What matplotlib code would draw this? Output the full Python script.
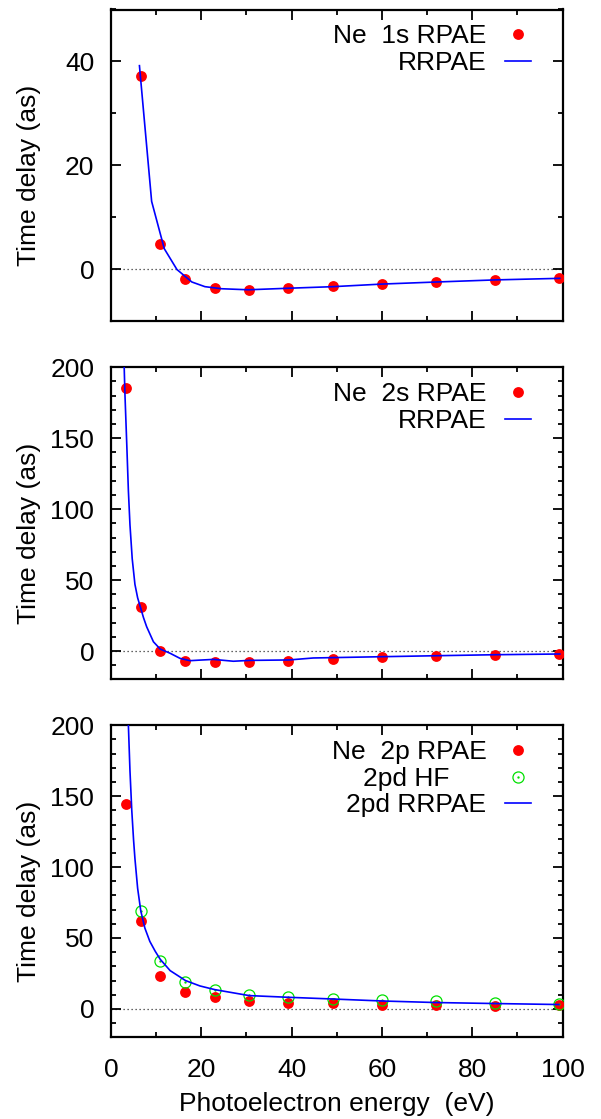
import matplotlib
matplotlib.use("Agg")
import matplotlib.pyplot as plt
from matplotlib.path import Path
from matplotlib.ticker import MultipleLocator, NullFormatter

plt.rcParams['font.family'] = ['Liberation Sans', 'DejaVu Sans']
plt.rcParams['font.size'] = 19

# ---- Ne 1s ----
energy_1s = [6.6, 10.9, 16.5, 23.0, 30.6, 39.3, 49.1, 60.0, 72.0, 85.0, 99.2]
delay_1s_rpae = [37.2, 4.9, -1.9, -3.6, -3.9, -3.6, -3.1, -2.7, -2.4, -2.0, -1.7]
energy_1s_rrpae = [6.3, 9.0, 11.8, 14.6, 17.9, 20.8, 24.5, 30.4, 39.4, 49.2, 60.1, 72.2, 85.1, 99.4]
delay_1s_rrpae = [39.2, 13.1, 4.0, 0.0, -2.4, -3.3, -3.7, -3.9, -3.6, -3.3, -2.8, -2.4, -2.0, -1.7]

# ---- Ne 2s ----
energy_2s = [3.3, 6.6, 10.9, 16.5, 23.0, 30.6, 39.3, 49.1, 60.0, 72.0, 85.0, 99.2]
delay_2s_rpae = [185.6, 31.2, 0.2, -6.9, -8.0, -7.6, -6.9, -5.5, -4.3, -3.5, -2.8, -2.4]
energy_2s_rrpae = [2.85, 3.1, 3.5, 3.85, 4.2, 4.7, 5.3, 5.9, 6.6, 7.2, 7.9, 9.4, 10.9, 13.1, 15.3,
                   17.5, 19.7, 22.7, 27.1, 30.7, 39.4, 44.8, 60.0, 72.2, 85.1, 99.4]
delay_2s_rrpae = [208.0, 180.0, 145.0, 113.0, 89.0, 65.0, 47.0, 37.5, 30.0, 23.5, 17.1, 6.5, 1.4,
                  -1.6, -5.2, -6.8, -6.4, -5.9, -7.2, -6.6, -6.3, -4.9, -4.0, -3.3, -2.6, -2.1]

# ---- Ne 2p ----
energy_2p = [3.3, 6.6, 10.9, 16.5, 23.0, 30.6, 39.3, 49.1, 60.0, 72.0, 85.0, 99.2]
delay_2p_rpae = [144.7, 62.2, 23.3, 12.2, 8.2, 5.9, 4.0, 4.0, 3.1, 2.6, 2.1, 2.5]
energy_2pd_hf = [6.6, 10.9, 16.5, 23.0, 30.6, 39.3, 49.1, 60.0, 72.0, 85.0, 99.2]
delay_2pd_hf = [69.0, 33.7, 19.3, 13.0, 9.7, 8.2, 7.3, 6.1, 5.4, 4.2, 3.3]
energy_2pd_rrpae = [3.7, 3.85, 4.2, 4.6, 5.0, 5.3, 5.9, 6.6, 7.5, 8.6, 9.8, 10.9, 13.1, 16.5,
                    19.7, 23.0, 30.6, 39.3, 49.1, 60.0, 72.0, 85.0, 99.2]
delay_2pd_rrpae = [216.0, 200.0, 168.0, 140.0, 119.0, 106.0, 85.0, 69.0, 57.0, 47.6, 40.6, 35.0,
                   27.0, 20.0, 16.2, 13.6, 9.4, 8.2, 7.0, 5.6, 4.5, 3.8, 3.1]

RED = '#ff0000'
BLUE = '#0000ff'
GREEN = '#00e000'

# open circle with a dot in the middle
_circ = Path.unit_circle()
dot_circle = Path.make_compound_path(_circ, Path(_circ.vertices * 0.1, _circ.codes))

fig = plt.figure(figsize=(6.01, 11.19), dpi=100)
left, width = 111 / 601, 451.5 / 601
H = 1119
panels = [
    (9.5, 321.5, (-10, 50), 20, 10),
    (367.3, 679.4, (-20, 200), 50, 10),
    (725.2, 1037.3, (-20, 200), 50, 10),
]
axes = []
for top, bot, ylim, major, minor in panels:
    ax = fig.add_axes([left, 1 - bot / H, width, (bot - top) / H])
    ax.set_xlim(0, 100)
    ax.set_ylim(*ylim)
    ax.xaxis.set_major_locator(MultipleLocator(20))
    ax.xaxis.set_minor_locator(MultipleLocator(10))
    ax.yaxis.set_major_locator(MultipleLocator(major))
    ax.yaxis.set_minor_locator(MultipleLocator(minor))
    ax.tick_params(which='both', direction='in', top=True, right=True, width=1.3)
    ax.tick_params(which='major', length=7.5)
    ax.tick_params(which='minor', length=3.8)
    ax.tick_params(axis='y', pad=12)
    ax.tick_params(axis='x', pad=15)
    for s in ax.spines.values():
        s.set_linewidth(1.6)
    ax.axhline(0, color='#333333', lw=0.9, ls=(0, (1, 2.2)), zorder=1)
    ax.set_ylabel('Time delay (as)')
    ax.yaxis.set_label_coords(-0.155, 0.468)
    axes.append(ax)

ax1, ax2, ax3 = axes
ax1.xaxis.set_major_formatter(NullFormatter())
ax2.xaxis.set_major_formatter(NullFormatter())

leg_kw = dict(frameon=False, markerfirst=False, loc='upper right',
              borderaxespad=0, handlelength=1.0, handletextpad=0.68,
              labelspacing=0.1, borderpad=0)

# Ne 1s
ax1.plot(energy_1s, delay_1s_rpae, 'o', color=RED, ms=7.8, mew=0, label='Ne  1s RPAE', zorder=3)
ax1.plot(energy_1s_rrpae, delay_1s_rrpae, '-', color=BLUE, lw=1.2, label='RRPAE', zorder=4)
ax1.legend(bbox_to_anchor=(0.93, 0.952), **leg_kw)

# Ne 2s
ax2.plot(energy_2s, delay_2s_rpae, 'o', color=RED, ms=7.8, mew=0, label='Ne  2s RPAE', zorder=3)
ax2.plot(energy_2s_rrpae, delay_2s_rrpae, '-', color=BLUE, lw=1.2, label='RRPAE', zorder=4)
ax2.legend(bbox_to_anchor=(0.93, 0.952), **leg_kw)

# Ne 2p
ax3.plot(energy_2p, delay_2p_rpae, 'o', color=RED, ms=7.8, mew=0, label='Ne  2p RPAE', zorder=3)
ax3.plot(energy_2pd_hf, delay_2pd_hf, ls='none', marker=dot_circle, ms=8.0, mfc='none',
         mec=GREEN, mew=0.9, label='2pd HF     ', zorder=4)
ax3.plot(energy_2pd_rrpae, delay_2pd_rrpae, '-', color=BLUE, lw=1.2, label='2pd RRPAE', zorder=5)
ax3.legend(bbox_to_anchor=(0.93, 0.952), **leg_kw)
ax3.set_xlabel('Photoelectron energy  (eV)', labelpad=7)

fig.savefig('out.png', dpi=100)
